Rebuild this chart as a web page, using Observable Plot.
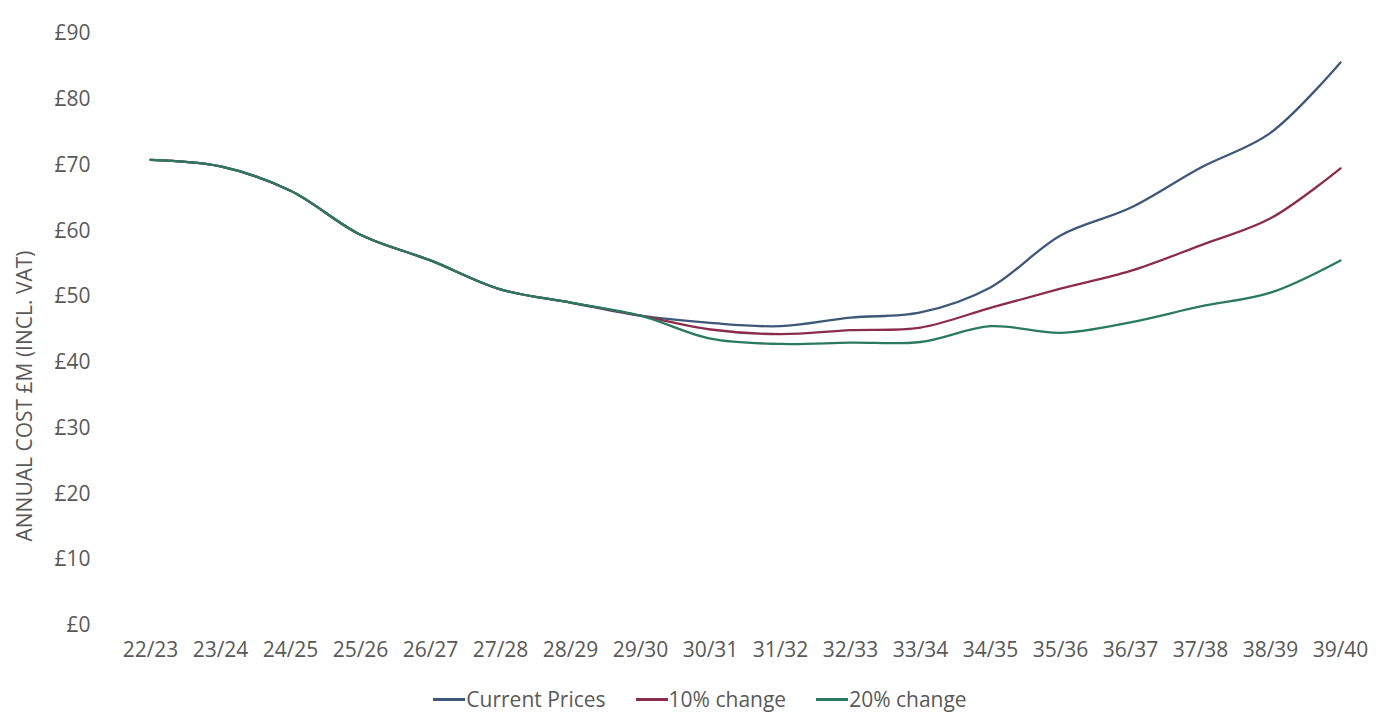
<!DOCTYPE html>
<html>
<head>
<meta charset="utf-8">
<script src="https://cdn.jsdelivr.net/npm/d3@7"></script>
<script src="https://cdn.jsdelivr.net/npm/@observablehq/plot@0.6"></script>
<style>
  html, body { margin: 0; padding: 0; background: #fff; }
  #wrap { width: 1376px; position: relative; font-family: "Open Sans", sans-serif; }
  #legend { display: flex; justify-content: center; gap: 30px; font-size: 21px; color: #595959; height: 28px; align-items: center; padding-left: 24px; }
  .item { display: flex; align-items: center; }
  .sw { display: inline-block; width: 32px; height: 3px; margin-right: 1px; }
</style>
</head>
<body>
<div id="wrap"></div>
<script>
const years = ["22/23","23/24","24/25","25/26","26/27","27/28","28/29","29/30","30/31","31/32","32/33","33/34","34/35","35/36","36/37","37/38","38/39","39/40"];
const seriesNames = ["Current Prices", "10% change", "20% change"];
const currentPrices = [70.8, 69.8, 66.1, 59.4, 55.5, 51.1, 49.1, 47.1, 46.0, 45.5, 46.8, 47.6, 51.4, 59.3, 63.5, 69.6, 74.9, 85.6];
const change10 = [70.8, 69.8, 66.1, 59.4, 55.5, 51.1, 49.1, 47.1, 45.0, 44.3, 44.9, 45.3, 48.3, 51.2, 53.9, 57.8, 61.9, 69.5];
const change20 = [70.8, 69.8, 66.1, 59.4, 55.5, 51.1, 49.1, 47.1, 43.6, 42.8, 43.0, 43.1, 45.5, 44.5, 46.1, 48.5, 50.6, 55.5];
const yTicks = [0, 10, 20, 30, 40, 50, 60, 70, 80, 90];
const colors = ["#3e5878", "#8a2c4d", "#2b7a60"];
const yLabel = "ANNUAL COST £M (INCL. VAT)";

const seriesValues = [currentPrices, change10, change20];
const data = [];
seriesNames.forEach((s, i) => years.forEach((y, j) => data.push({series: s, year: y, value: seriesValues[i][j]})));

const chart = Plot.plot({
  width: 1376,
  height: 685,
  marginTop: 33,
  marginBottom: 60,
  marginLeft: 147,
  marginRight: 33,
  style: {fontFamily: "Open Sans, sans-serif", fontSize: "21px", color: "#595959", background: "#fff"},
  x: {type: "point", domain: years, padding: 0, label: null},
  y: {domain: [0, 90], label: null},
  color: {domain: seriesNames, range: colors},
  marks: [
    Plot.axisX({tickSize: 0, tickPadding: 17, fontSize: 21}),
    Plot.axisY({ticks: yTicks, tickSize: 0, tickPadding: 57, tickFormat: d => "£" + d, fontSize: 21}),
    Plot.line(data, {x: "year", y: "value", z: "series", stroke: "series", strokeWidth: 2.3, curve: "catmull-rom"})
  ]
});

d3.select(chart).append("text")
  .attr("transform", "translate(32,396) rotate(-90)")
  .attr("text-anchor", "middle")
  .attr("fill", "#595959")
  .attr("font-size", 21)
  .text(yLabel);

const wrap = document.getElementById("wrap");
wrap.appendChild(chart);
const legend = d3.select(wrap).append("div").attr("id", "legend");
seriesNames.forEach((s, i) => {
  const it = legend.append("div").attr("class", "item");
  it.append("span").attr("class", "sw").style("background", colors[i]);
  it.append("span").text(s);
});
</script>
</body>
</html>
